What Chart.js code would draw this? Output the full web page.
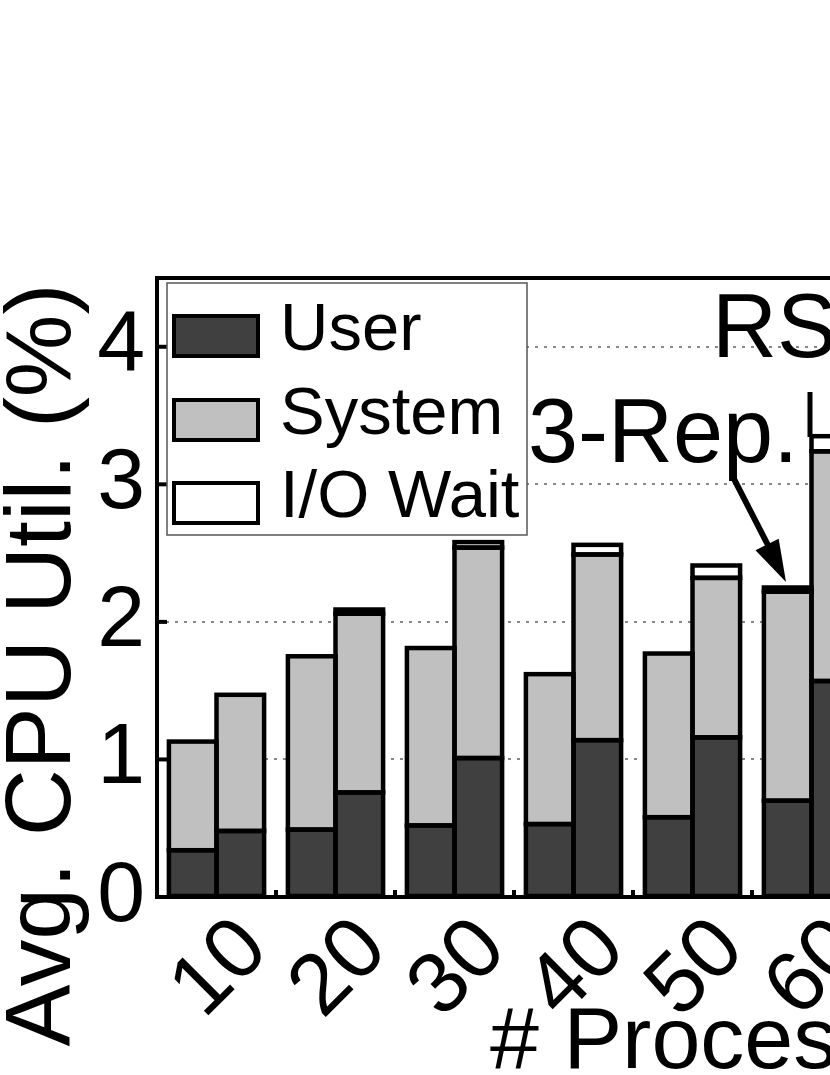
<!DOCTYPE html>
<html>
<head>
<meta charset="utf-8">
<script src="https://cdn.jsdelivr.net/npm/chart.js@4.4.1/dist/chart.umd.min.js"></script>
<style>
  html, body { margin: 0; padding: 0; overflow: hidden; background: #fff; }
  canvas { display: block; }
</style>
</head>
<body>
<canvas id="grafico-cpu" width="881" height="1075"></canvas>
<script>
const procesos = ['10', '20', '30', '40', '50', '60'];
const nombresSerie = ['User', 'System', 'I/O Wait'];

// barra izquierda de cada grupo (3-Rep.)
const repUser   = [0.34, 0.49, 0.52, 0.53, 0.58, 0.70];
const repSystem = [0.79, 1.26, 1.29, 1.09, 1.19, 1.52];
const repIOWait = [0, 0, 0, 0, 0, 0.03];

// barra derecha de cada grupo (RS)
const rsUser   = [0.48, 0.76, 1.01, 1.14, 1.16, 1.57];
const rsSystem = [0.99, 1.30, 1.53, 1.35, 1.16, 1.67];
const rsIOWait = [0, 0.03, 0.04, 0.07, 0.09, 0.11];

const coloresSerie = ['#404040', '#c0c0c0', '#ffffff'];
const fuente = '"Liberation Sans", Arial, sans-serif';

( function() {

    function serie(nombre, datos, color, grupo) {
        return {
            label: nombre,
            data: datos,
            backgroundColor: color,
            borderWidth: 0,
            stack: grupo
        };
    }

    // contorno centrado en el borde de cada barra (estilo matplotlib)
    const contornos = {
        id: 'contornos',
        afterDatasetsDraw(chart) {
            const ctx = chart.ctx;
            ctx.save();
            ctx.strokeStyle = '#000';
            ctx.lineWidth = 4.5;
            chart.data.datasets.forEach((ds, i) => {
                chart.getDatasetMeta(i).data.forEach((bar, j) => {
                    if (!ds.data[j]) return;
                    const p = bar.getProps(['x', 'y', 'base', 'width'], true);
                    ctx.strokeRect(p.x - p.width / 2, p.y, p.width, p.base - p.y);
                });
            });
            ctx.restore();
        }
    };

    const marco = {
        id: 'marco',
        afterDraw(chart) {
            const ctx = chart.ctx;
            const area = chart.chartArea;
            const x = chart.scales.x;
            const y = chart.scales.y;
            ctx.save();
            ctx.strokeStyle = '#000';
            ctx.lineWidth = 4;

            // marcas hacia dentro en el eje y
            y.ticks.forEach(t => {
                const py = y.getPixelForValue(t.value);
                ctx.beginPath();
                ctx.moveTo(area.left, py);
                ctx.lineTo(area.left + 10, py);
                ctx.stroke();
            });

            // marcas entre grupos en el eje x
            for (let i = 0; i < procesos.length - 1; i++) {
                const px = (x.getPixelForValue(i) + x.getPixelForValue(i + 1)) / 2;
                ctx.beginPath();
                ctx.moveTo(px, area.bottom);
                ctx.lineTo(px, area.bottom - 7);
                ctx.stroke();
            }

            ctx.strokeRect(area.left, area.top, area.right - area.left, area.bottom - area.top);

            // titulos de ejes
            ctx.fillStyle = '#000';
            ctx.font = '88px ' + fuente;
            ctx.textBaseline = 'alphabetic';
            ctx.textAlign = 'left';
            ctx.fillText('# Processes', 490, 1068);

            ctx.save();
            ctx.translate(70, 665);
            ctx.rotate(-Math.PI / 2);
            ctx.textAlign = 'center';
            ctx.font = '93px ' + fuente;
            ctx.fillText('Avg. CPU Util. (%)', 0, 0);
            ctx.restore();

            // anotaciones
            ctx.font = '90px ' + fuente;
            ctx.textAlign = 'left';
            ctx.fillText('RS', 712, 357);
            ctx.fillText('3-Rep.', 528, 462);

            ctx.lineWidth = 6;
            ctx.beginPath();
            ctx.moveTo(733, 477);
            ctx.lineTo(772, 553);
            ctx.stroke();
            const ang = Math.atan2(582 - 477, 786 - 733);
            ctx.beginPath();
            ctx.moveTo(786, 582);
            ctx.lineTo(786 - 42 * Math.cos(ang) + 13 * Math.sin(ang), 582 - 42 * Math.sin(ang) - 13 * Math.cos(ang));
            ctx.lineTo(786 - 42 * Math.cos(ang) - 13 * Math.sin(ang), 582 - 42 * Math.sin(ang) + 13 * Math.cos(ang));
            ctx.closePath();
            ctx.fill();

            ctx.lineWidth = 5;
            ctx.beginPath();
            ctx.moveTo(810, 392);
            ctx.lineTo(810, 437);
            ctx.stroke();

            // leyenda
            ctx.lineWidth = 1.5;
            ctx.strokeStyle = '#555';
            ctx.fillStyle = '#fff';
            ctx.fillRect(167, 283, 360, 252);
            ctx.strokeRect(167, 283, 360, 252);
            const centros = [336, 420, 503];
            nombresSerie.forEach((nombre, i) => {
                ctx.fillStyle = coloresSerie[i];
                ctx.fillRect(174, centros[i] - 20, 84, 40);
                ctx.strokeStyle = '#000';
                ctx.lineWidth = 4;
                ctx.strokeRect(174, centros[i] - 20, 84, 40);
                ctx.fillStyle = '#000';
                ctx.font = '67px ' + fuente;
                ctx.fillText(nombre, 280, centros[i] + 14);
            });

            ctx.restore();
        }
    };

    new Chart(
        document.getElementById('grafico-cpu'),
        {
            type: 'bar',
            data: {
                labels: procesos,
                datasets: [
                    serie(nombresSerie[0], repUser, coloresSerie[0], 'rep'),
                    serie(nombresSerie[1], repSystem, coloresSerie[1], 'rep'),
                    serie(nombresSerie[2], repIOWait, coloresSerie[2], 'rep'),
                    serie(nombresSerie[0], rsUser, coloresSerie[0], 'rs'),
                    serie(nombresSerie[1], rsSystem, coloresSerie[1], 'rs'),
                    serie(nombresSerie[2], rsIOWait, coloresSerie[2], 'rs')
                ]
            },
            options: {
                responsive: false,
                animation: false,
                layout: { padding: { top: 278, right: 10, left: 0, bottom: 0 } },
                datasets: { bar: { categoryPercentage: 0.8, barPercentage: 1.0 } },
                plugins: {
                    legend: { display: false },
                    tooltip: { enabled: false }
                },
                scales: {
                    x: {
                        stacked: true,
                        offset: true,
                        grid: { display: false },
                        border: { display: false },
                        ticks: {
                            minRotation: 45,
                            maxRotation: 45,
                            autoSkip: false,
                            padding: -6,
                            labelOffset: 38,
                            color: '#000',
                            font: { size: 86, family: fuente }
                        },
                        afterFit: s => {
                            s.height = 178;
                            s.paddingLeft = 0;
                            s.paddingRight = 0;
                        }
                    },
                    y: {
                        stacked: true,
                        min: 0,
                        max: 4.5,
                        grid: {
                            drawTicks: false,
                            lineWidth: 2,
                            color: c => (Number.isInteger(c.tick.value) && c.tick.value > 0) ? '#888' : 'rgba(0,0,0,0)'
                        },
                        border: { display: false, dash: [3, 6] },
                        ticks: {
                            stepSize: 0.5,
                            padding: 12,
                            color: '#000',
                            font: { size: 86, family: fuente },
                            callback: v => Number.isInteger(v) ? v : ''
                        },
                        afterFit: s => { s.width = 157; }
                    }
                }
            },
            plugins: [contornos, marco]
        }
    );
})();
</script>
</body>
</html>
